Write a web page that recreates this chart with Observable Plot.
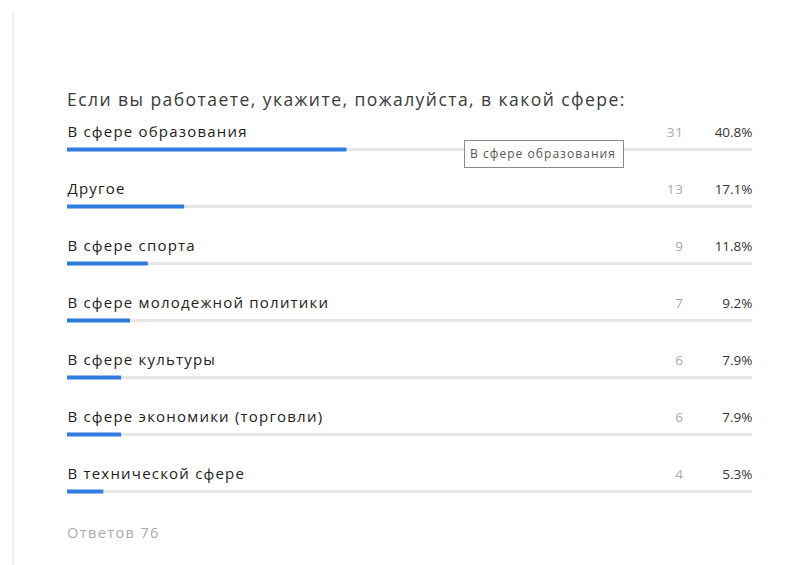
<!DOCTYPE html>
<html>
<head>
<meta charset="utf-8">
<script src="https://cdn.jsdelivr.net/npm/d3@7"></script>
<script src="https://cdn.jsdelivr.net/npm/@observablehq/plot@0.6"></script>
<style>
  html, body { margin: 0; padding: 0; background: #fff; }
  body { width: 795px; height: 565px; position: relative; overflow: hidden; font-family: "Open Sans", sans-serif; }
  #card { position: absolute; left: 12px; top: 12px; width: 783px; height: 553px; border-left: 2px solid #f0f0f0; }
  #title { position: absolute; left: 67px; top: 87px; font-size: 17.5px; letter-spacing: 1.45px; color: #3a3a3a; white-space: nowrap; }
  #chart { position: absolute; left: 0; top: 112px; }
  #footer { position: absolute; left: 67px; top: 523px; font-size: 14.5px; letter-spacing: 1.4px; color: #aaa; }
  #tip { position: absolute; left: 464px; top: 140px; width: 160px; height: 28px; border: 1px solid #8a8a8a; background: #fff;
         font-size: 12px; letter-spacing: 1.05px; color: #555; line-height: 26px; padding-left: 5px; box-sizing: border-box; white-space: nowrap; overflow: hidden; }
</style>
</head>
<body>
<div id="card"></div>
<div id="title">Если вы работаете, укажите, пожалуйста, в какой сфере:</div>
<div id="chart"></div>
<div id="footer">Ответов 76</div>
<div id="tip">В сфере образования</div>
<script>
const categories = [
  "В сфере образования",
  "Другое",
  "В сфере спорта",
  "В сфере молодежной политики",
  "В сфере культуры",
  "В сфере экономики (торговли)",
  "В технической сфере"
];
const counts = [31, 13, 9, 7, 6, 6, 4];
const percents = [40.8, 17.1, 11.8, 9.2, 7.9, 7.9, 5.3];

const data = categories.map((name, i) => ({name, count: counts[i], pct: percents[i]}));

const chart = Plot.plot({
  width: 795,
  height: 400,
  marginLeft: 67,
  marginRight: 43,
  marginTop: 35,
  marginBottom: 20,
  x: {domain: [0, 100], axis: null},
  y: {type: "point", domain: categories, padding: 0, axis: null},
  style: {fontFamily: "'Open Sans', sans-serif", background: "transparent"},
  marks: [
    Plot.ruleY(data, {y: "name", x1: 0, x2: 100, stroke: "#e6e6e6", strokeWidth: 3}),
    Plot.ruleY(data, {y: "name", x1: 0, x2: "pct", stroke: "#2f7be0", strokeWidth: 4}),
    Plot.text(data, {y: "name", x: 0, text: "name", textAnchor: "start", dy: -17, fontSize: 15, fill: "#222"}),
    Plot.text(data, {y: "name", x: 100, text: d => String(d.count), textAnchor: "end", dx: -69, dy: -17, fontSize: 13.5, fill: "#aaa"}),
    Plot.text(data, {y: "name", x: 100, text: d => d.pct.toFixed(1) + "%", textAnchor: "end", dy: -17, fontSize: 13.5, fill: "#333"})
  ]
});
const textGroups = d3.select(chart).selectAll('g[aria-label="text"]').nodes();
if (textGroups[0]) d3.select(textGroups[0]).style("letter-spacing", "1.2px");
if (textGroups[1]) d3.select(textGroups[1]).style("letter-spacing", "0.6px");
document.getElementById("chart").appendChild(chart);
</script>
</body>
</html>
